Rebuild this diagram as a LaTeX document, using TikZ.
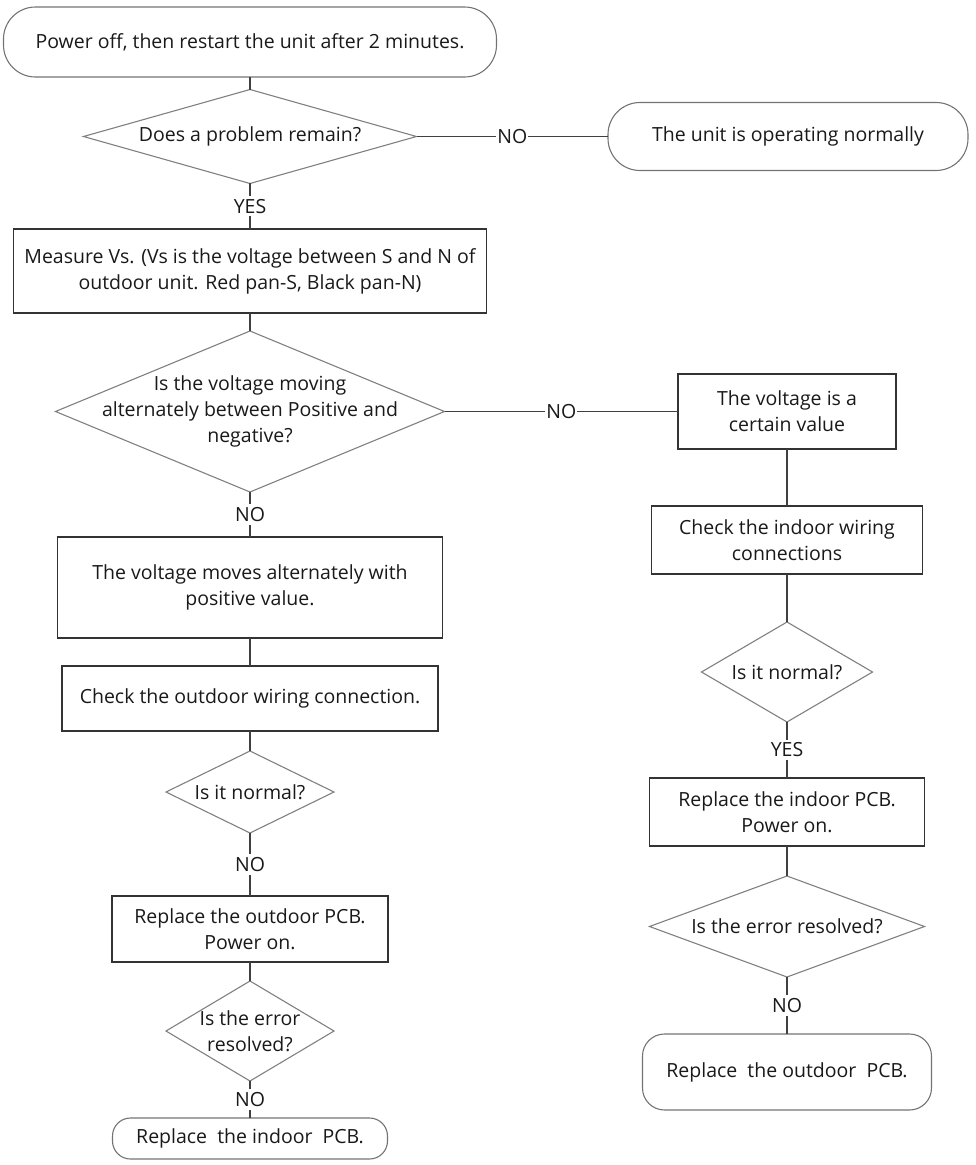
\documentclass[tikz,border=0pt]{standalone}
\usepackage{fontspec}
\setmainfont{Open Sans}
\usetikzlibrary{shapes.geometric}

\begin{document}
\begin{tikzpicture}[x=1pt,y=-1pt,
    every node/.style={text=black!90,font=\fontsize{19.5}{26}\selectfont},
    box/.style={rectangle,draw=black!80,line width=1.3pt,align=center,inner sep=2pt,outer sep=0pt},
    term/.style={rectangle,rounded corners=#1,draw=black!55,line width=1.1pt,align=center,outer sep=0pt},
    term/.default=32pt,
    ask/.style={diamond,draw=black!50,line width=1.1pt,inner sep=0pt,outer sep=0pt},
    qtext/.style={align=center,inner sep=0pt},
    link/.style={draw=black!75,line width=1.2pt},
    tag/.style={fill=white,inner xsep=1pt,inner ysep=3pt}]

  \useasboundingbox (0,0) rectangle (976,1165);

  % left column
  \node[term,minimum width=493pt,minimum height=70pt] (start) at (250,42)
       {Power off, then restart the unit after 2 minutes.};
  \node[ask,minimum width=333pt,minimum height=94pt] (q1) at (250,136.5) {};
  \node[qtext] (q1t) at (q1) {Does a problem remain?};
  \node[box,minimum width=473pt,minimum height=84pt] (meas) at (250,271)
       {Measure Vs. (Vs is the voltage between S and N of\\outdoor unit. Red pan-S, Black pan-N)};
  \node[ask,minimum width=389pt,minimum height=161pt] (q2) at (250,411.5) {};
  \node[qtext] (q2t) at (q2) {Is the voltage moving\\alternately between Positive and\\negative?};
  \node[box,minimum width=385pt,minimum height=101pt] (posv) at (250,587.5)
       {The voltage moves alternately with\\positive value.};
  \node[box,minimum width=376pt,minimum height=65pt] (chkout) at (250,698.5)
       {Check the outdoor wiring connection.};
  \node[ask,minimum width=168pt,minimum height=82pt] (q3) at (250,792) {};
  \node[qtext] (q3t) at (q3) {Is it normal?};
  \node[box,minimum width=276pt,minimum height=66pt] (newout) at (250,929)
       {Replace the outdoor PCB.\\Power on.};
  \node[ask,minimum width=168pt,minimum height=100pt] (q5) at (250,1031) {};
  \node[qtext] (q5t) at (q5) {Is the error\\resolved?};
  \node[term=18pt,minimum width=275pt,minimum height=41pt] (endin) at (250,1138.5)
       {Replace\ \ the indoor\ \ PCB.};

  % right column
  \node[term,minimum width=360pt,minimum height=68pt] (ok) at (788,136.5)
       {The unit is operating normally};
  \node[box,minimum width=218pt,minimum height=75pt] (fixv) at (787,411.5)
       {The voltage is a\\certain value};
  \node[box,minimum width=271pt,minimum height=68pt] (chkin) at (787,540)
       {Check the indoor wiring\\connections};
  \node[ask,minimum width=171pt,minimum height=100pt] (q4) at (787,672) {};
  \node[qtext] (q4t) at (q4) {Is it normal?};
  \node[box,minimum width=275pt,minimum height=68pt] (newin) at (787,812)
       {Replace the indoor PCB.\\Power on.};
  \node[ask,minimum width=275pt,minimum height=101pt] (q6) at (787,926.5) {};
  \node[qtext] (q6t) at (q6) {Is the error resolved?};
  \node[term=22pt,minimum width=289pt,minimum height=76pt] (endout) at (787,1072)
       {Replace\ \ the outdoor\ \ PCB.};

  % plain connectors
  \foreach \a/\b in {start/q1, meas/q2, posv/chkout, chkout/q3, newout/q5,
                     fixv/chkin, chkin/q4, newin/q6}
    \draw[link] (\a) -- (\b);

  % connectors with an answer on them
  \foreach \a/\b/\ans in {q1/ok/NO, q1/meas/YES, q2/fixv/NO, q2/posv/NO,
                          q3/newout/NO, q5/endin/NO, q4/newin/YES, q6/endout/NO}
    \draw[link] (\a) -- node[tag] {\ans} (\b);

\end{tikzpicture}
\end{document}
